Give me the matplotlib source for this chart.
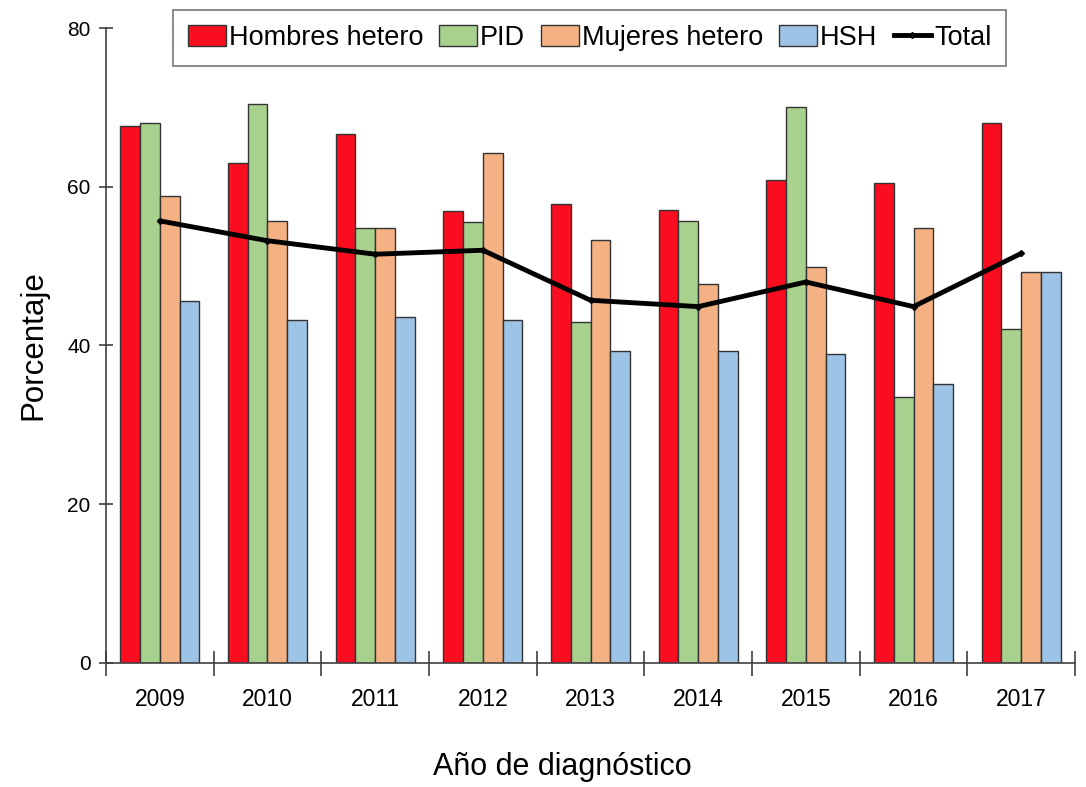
import numpy as np
import matplotlib.pyplot as plt
from matplotlib.patches import Patch
from matplotlib.lines import Line2D

plt.rcParams['font.family'] = ['Liberation Sans', 'DejaVu Sans']

years = ['2009', '2010', '2011', '2012', '2013', '2014', '2015', '2016', '2017']
hombres = [67.6, 63.0, 66.7, 56.9, 57.8, 57.1, 60.8, 60.5, 68.0]
pid = [68.0, 70.4, 54.8, 55.5, 43.0, 55.7, 70.1, 33.5, 42.1]
mujeres = [58.8, 55.7, 54.8, 64.3, 53.3, 47.7, 49.9, 54.8, 49.2]
hsh = [45.6, 43.2, 43.6, 43.2, 39.3, 39.3, 38.9, 35.1, 49.3]
total = [55.7, 53.2, 51.5, 52.0, 45.7, 44.9, 48.0, 44.9, 51.6]

series = [('Hombres hetero', hombres, '#F90D1E'),
          ('PID', pid, '#A9D18E'),
          ('Mujeres hetero', mujeres, '#F4B183'),
          ('HSH', hsh, '#9DC3E6')]

fig = plt.figure(figsize=(10.86, 7.87), dpi=100)
ax = fig.add_axes([0.0976, 0.1576, 0.8923, 0.8068])

x = np.arange(len(years)) + 0.5
w = 0.184
for i, (name, vals, col) in enumerate(series):
    ax.bar(x + (i - 1.5) * w, vals, w, color=col, edgecolor='#333333',
           linewidth=1.0, zorder=2)
ax.plot(x, total, color='black', lw=3.5, marker='D', ms=3, zorder=3,
        solid_capstyle='round')

ax.set_xlim(0, len(years))
ax.set_ylim(0, 80)
ax.set_yticks([0, 20, 40, 60, 80])
ax.set_xticks(x)
ax.set_xticklabels(years)
ax.set_xticks(np.arange(len(years) + 1), minor=True)
ax.tick_params(axis='x', which='major', length=0, labelsize=16.5, pad=18)
ax.tick_params(axis='x', which='minor', direction='inout', length=18,
               width=1.2, color='#404040')
ax.tick_params(axis='y', direction='inout', length=10, width=1.2,
               color='#404040', labelsize=15, pad=6)
for s in ['top', 'right']:
    ax.spines[s].set_visible(False)
for s in ['left', 'bottom']:
    ax.spines[s].set_color('#404040')
    ax.spines[s].set_linewidth(1.2)

ax.set_ylabel('Porcentaje', fontsize=22.5, labelpad=14)
fig.text(0.518, 0.006, 'Año de diagnóstico', fontsize=22, ha='center',
         va='bottom')

handles = [Patch(facecolor=c, edgecolor='#333333', label=n)
           for n, _, c in series]
handles.append(Line2D([], [], color='black', lw=3.5, marker='D', ms=3,
                      label='Total'))
leg = fig.legend(handles=handles, ncol=5, loc='upper left',
                 bbox_to_anchor=(173 / 1086, 1 - 10 / 787), fontsize=19.5,
                 frameon=True, fancybox=False, edgecolor='#555555',
                 handlelength=1.4, handleheight=0.8, handletextpad=0.1,
                 columnspacing=0.6, borderpad=0.55, borderaxespad=0)
leg.get_frame().set_linewidth(1.2)

fig.savefig('out.png', dpi=100)
